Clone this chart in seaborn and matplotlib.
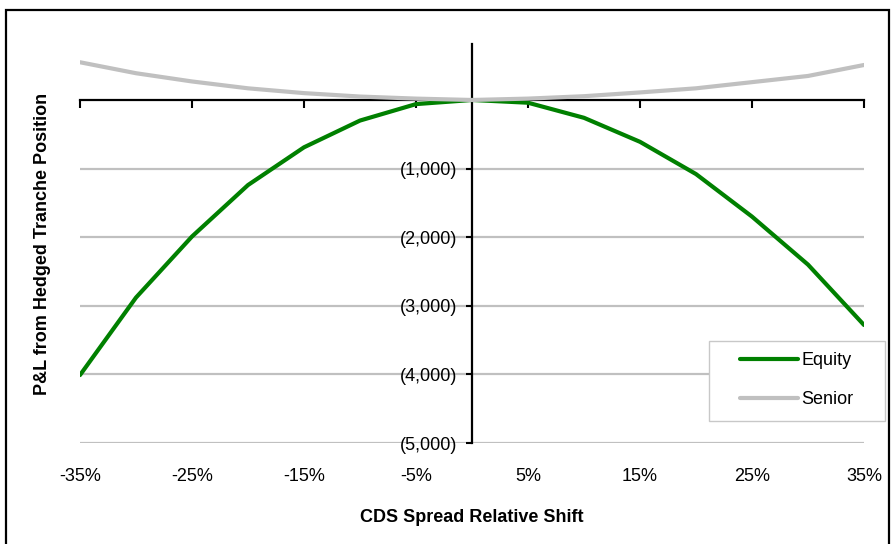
import matplotlib
matplotlib.use("Agg")
import matplotlib.pyplot as plt
from matplotlib.patches import Rectangle
import pandas as pd
import seaborn as sns

# Relative shift applied to CDS spreads (percent)
shift_pct = [-35, -30, -25, -20, -15, -10, -5, 0, 5, 10, 15, 20, 25, 30, 35]
# P&L of the hedged tranche positions
equity_pnl = [-4010, -2880, -1990, -1240, -690, -300, -60, 0,
              -40, -260, -610, -1080, -1700, -2400, -3280]
senior_pnl = [550, 390, 270, 170, 100, 50, 20, 0,
              20, 55, 110, 170, 260, 350, 510]

x_tick_pct = [-35, -25, -15, -5, 5, 15, 25, 35]
y_tick_vals = [-5000, -4000, -3000, -2000, -1000]

sns.set_theme(style="white")
plt.rcParams["font.family"] = ["Liberation Sans", "DejaVu Sans"]
plt.rcParams["text.color"] = "black"
plt.rcParams["axes.labelcolor"] = "black"
plt.rcParams["xtick.color"] = "black"
plt.rcParams["ytick.color"] = "black"

df = pd.DataFrame({"shift": shift_pct, "Equity": equity_pnl, "Senior": senior_pnl})
long_df = df.melt(id_vars="shift", var_name="tranche", value_name="pnl")

fig = plt.figure(figsize=(8.96, 5.44), dpi=100)
ax = fig.add_axes([80 / 896, 101 / 544, 784 / 896, 399 / 544])

palette = {"Equity": "#008000", "Senior": "#C0C0C0"}
sns.lineplot(data=long_df, x="shift", y="pnl", hue="tranche",
             hue_order=["Equity", "Senior"], palette=palette,
             linewidth=3, ax=ax, legend=False, zorder=3)

ax.set_xlim(-35, 35)
ax.set_ylim(-5000, 816)

# axes cross at the origin
for side in ("top", "right"):
    ax.spines[side].set_visible(False)
ax.spines["left"].set_position(("data", 0))
ax.spines["bottom"].set_position(("data", 0))
for side in ("left", "bottom"):
    ax.spines[side].set_color("black")
    ax.spines[side].set_linewidth(1.6)

ax.yaxis.grid(True, color="#C0C0C0", linewidth=1.6)
ax.xaxis.grid(False)
ax.set_axisbelow(True)

ax.set_xticks(x_tick_pct)
ax.tick_params(axis="x", bottom=True, direction="out", length=6, width=1.5,
               labelbottom=False)
ax.set_yticks(y_tick_vals, labels=[f"({abs(v):,})" for v in y_tick_vals])
ax.tick_params(axis="y", left=True, direction="out", length=4.5, width=1.5,
               pad=6, labelsize=13)

# category labels sit along the bottom of the plot area
sec = ax.secondary_xaxis("bottom")
sec.set_xticks(x_tick_pct, labels=[f"{v}%" for v in x_tick_pct])
sec.spines["bottom"].set_visible(False)
sec.tick_params(axis="x", length=0, pad=18, labelsize=13)
sec.set_xlabel("CDS Spread Relative Shift", fontsize=13, fontweight="bold",
               labelpad=17)

ax.set_xlabel("")
ax.set_ylabel("P&L from Hedged Tranche Position", fontsize=13, fontweight="bold")
ax.yaxis.set_label_coords(-0.037, 0.5)

# legend box
ax.add_patch(Rectangle((709 / 896, (544 - 421) / 544), 176 / 896, 80 / 544,
                       transform=fig.transFigure, facecolor="white",
                       edgecolor="#C8C8C8", linewidth=1.0, clip_on=False,
                       zorder=4))
lines = ax.get_lines()[:2]
ax.legend(lines, ["Equity", "Senior"], loc="center",
          bbox_to_anchor=(797 / 896, (544 - 380) / 544),
          bbox_transform=fig.transFigure, frameon=False,
          handlelength=3.2, handletextpad=0.2, labelspacing=1.2, fontsize=13)

# chart border
fig.patches.append(Rectangle((6 / 896, -0.1), (889 - 6) / 896, 1 - 10 / 544 + 0.1,
                             transform=fig.transFigure, fill=False,
                             edgecolor="black", linewidth=1.6))

fig.savefig("out.png", dpi=100)
